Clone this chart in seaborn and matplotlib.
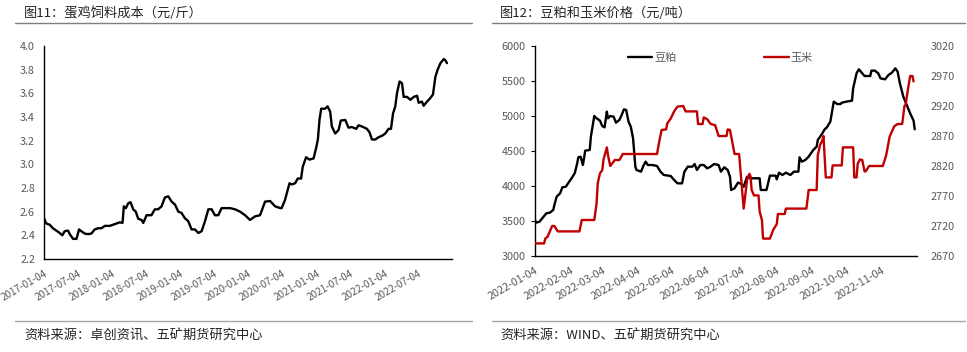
import pandas as pd
import matplotlib
matplotlib.use('Agg')
import matplotlib.pyplot as plt
import matplotlib.lines as mlines
import seaborn as sns

# Fig 11: layer feed cost (yuan/jin)
egg_dates = ['2017-01-04', '2017-01-16', '2017-02-03', '2017-02-21', '2017-03-11', '2017-03-29',
             '2017-04-12', '2017-04-25', '2017-05-13', '2017-05-22', '2017-06-09', '2017-06-27',
             '2017-07-11', '2017-07-23', '2017-08-10', '2017-08-28', '2017-09-15', '2017-10-03',
             '2017-10-21', '2017-11-08', '2017-11-26', '2017-12-23', '2018-01-18', '2018-02-14',
             '2018-03-01', '2018-03-08', '2018-03-19', '2018-03-31', '2018-04-13', '2018-04-27',
             '2018-05-11', '2018-05-24', '2018-06-11', '2018-06-20', '2018-07-08', '2018-08-03',
             '2018-08-21', '2018-09-08', '2018-09-26', '2018-10-14', '2018-11-01', '2018-11-19',
             '2018-12-07', '2018-12-25', '2019-01-11', '2019-01-29', '2019-02-16', '2019-03-06',
             '2019-03-24', '2019-04-11', '2019-04-29', '2019-05-17', '2019-06-04', '2019-06-22',
             '2019-07-09', '2019-07-27', '2019-08-14', '2019-09-01', '2019-09-28', '2019-10-25',
             '2019-11-21', '2019-12-18', '2020-01-13', '2020-02-09', '2020-03-07', '2020-04-03',
             '2020-04-30', '2020-05-27', '2020-06-23', '2020-07-01', '2020-07-19', '2020-08-12',
             '2020-08-24', '2020-09-11', '2020-09-25', '2020-10-13', '2020-10-22', '2020-11-09',
             '2020-11-27', '2020-12-19', '2021-01-02', '2021-01-11', '2021-01-20', '2021-01-29',
             '2021-02-19', '2021-03-04', '2021-03-18', '2021-03-27', '2021-04-14', '2021-05-02',
             '2021-05-14', '2021-06-07', '2021-06-24', '2021-07-12', '2021-08-05', '2021-08-17',
             '2021-09-04', '2021-10-01', '2021-10-15', '2021-10-28', '2021-11-15', '2021-12-03',
             '2021-12-20', '2022-01-07', '2022-01-25', '2022-02-07', '2022-02-18', '2022-03-02',
             '2022-03-11', '2022-03-25', '2022-04-07', '2022-04-16', '2022-05-04', '2022-05-22',
             '2022-06-09', '2022-06-27', '2022-07-05', '2022-07-23', '2022-08-01', '2022-08-19',
             '2022-09-06', '2022-09-20', '2022-10-03', '2022-10-15', '2022-10-30', '2022-11-17',
             '2022-11-25', '2022-12-04']
egg_cost = [2.545, 2.50, 2.49, 2.46, 2.44, 2.42, 2.40, 2.435, 2.44, 2.41, 2.37, 2.37,
            2.45, 2.435, 2.415, 2.41, 2.415, 2.45, 2.46, 2.46, 2.48, 2.48, 2.495, 2.51,
            2.505, 2.645, 2.63, 2.67, 2.68, 2.62, 2.60, 2.54, 2.53, 2.505, 2.57, 2.57,
            2.62, 2.62, 2.645, 2.72, 2.73, 2.685, 2.66, 2.60, 2.59, 2.545, 2.52, 2.45,
            2.45, 2.42, 2.435, 2.52, 2.62, 2.62, 2.57, 2.57, 2.63, 2.63, 2.63, 2.62,
            2.60, 2.57, 2.53, 2.56, 2.57, 2.685, 2.69, 2.645, 2.63, 2.63, 2.70, 2.84,
            2.83, 2.84, 2.88, 2.88, 2.98, 3.06, 3.04, 3.05, 3.14, 3.21, 3.38, 3.47,
            3.47, 3.49, 3.445, 3.32, 3.26, 3.29, 3.37, 3.375, 3.31, 3.315, 3.30, 3.33,
            3.32, 3.30, 3.27, 3.21, 3.21, 3.23, 3.24, 3.26, 3.30, 3.30, 3.43, 3.49,
            3.60, 3.70, 3.685, 3.57, 3.57, 3.545, 3.57, 3.58, 3.52, 3.53, 3.495, 3.53,
            3.56, 3.59, 3.74, 3.80, 3.855, 3.89, 3.88, 3.855]

# Fig 12: soybean meal and corn prices (yuan/ton)
meal_dates = ['2022-01-04', '2022-01-05', '2022-01-08', '2022-01-11', '2022-01-14', '2022-01-17',
              '2022-01-20', '2022-01-21', '2022-01-23', '2022-01-26', '2022-01-28', '2022-01-31',
              '2022-02-03', '2022-02-06', '2022-02-08', '2022-02-10', '2022-02-11', '2022-02-13',
              '2022-02-15', '2022-02-16', '2022-02-17', '2022-02-21', '2022-02-22', '2022-02-25',
              '2022-02-27', '2022-03-02', '2022-03-04', '2022-03-06', '2022-03-08', '2022-03-09',
              '2022-03-11', '2022-03-14', '2022-03-16', '2022-03-19', '2022-03-21', '2022-03-23',
              '2022-03-25', '2022-03-27', '2022-03-29', '2022-03-31', '2022-04-02', '2022-04-03',
              '2022-04-07', '2022-04-09', '2022-04-11', '2022-04-13', '2022-04-17', '2022-04-21',
              '2022-04-24', '2022-04-27', '2022-05-03', '2022-05-06', '2022-05-09', '2022-05-13',
              '2022-05-15', '2022-05-18', '2022-05-22', '2022-05-24', '2022-05-26', '2022-05-29',
              '2022-06-01', '2022-06-04', '2022-06-07', '2022-06-10', '2022-06-14', '2022-06-16',
              '2022-06-19', '2022-06-22', '2022-06-24', '2022-06-25', '2022-06-28', '2022-07-01',
              '2022-07-04', '2022-07-06', '2022-07-09', '2022-07-12', '2022-07-16', '2022-07-20',
              '2022-07-21', '2022-07-26', '2022-07-29', '2022-08-03', '2022-08-04', '2022-08-06',
              '2022-08-09', '2022-08-12', '2022-08-16', '2022-08-19', '2022-08-23', '2022-08-24',
              '2022-08-26', '2022-08-29', '2022-09-01', '2022-09-05', '2022-09-08', '2022-09-09',
              '2022-09-13', '2022-09-15', '2022-09-17', '2022-09-20', '2022-09-23', '2022-09-26',
              '2022-09-29', '2022-09-30', '2022-10-04', '2022-10-09', '2022-10-10', '2022-10-13',
              '2022-10-15', '2022-10-18', '2022-10-20', '2022-10-25', '2022-10-26', '2022-10-29',
              '2022-11-01', '2022-11-03', '2022-11-07', '2022-11-10', '2022-11-13', '2022-11-16',
              '2022-11-18', '2022-11-20', '2022-11-23', '2022-11-26', '2022-11-29', '2022-12-02',
              '2022-12-03']
meal_price = [3514, 3476, 3490, 3552, 3610, 3619, 3657, 3729, 3848, 3895, 3981, 3990,
              4062, 4133, 4190, 4324, 4410, 4419, 4300, 4395, 4505, 4514, 4705, 5000,
              4967, 4933, 4857, 4838, 5062, 4967, 5000, 4990, 4905, 4943, 5014, 5095,
              5086, 4919, 4848, 4681, 4276, 4229, 4205, 4286, 4348, 4300, 4300, 4286,
              4205, 4157, 4143, 4086, 4038, 4038, 4205, 4276, 4276, 4314, 4229, 4300,
              4300, 4252, 4276, 4314, 4300, 4205, 4267, 4229, 4133, 3943, 3967, 4048,
              4029, 3990, 4133, 4110, 4110, 4110, 3943, 3943, 4148, 4148, 4095, 4190,
              4157, 4190, 4157, 4205, 4205, 4410, 4348, 4371, 4419, 4514, 4562, 4657,
              4752, 4810, 4838, 4919, 5205, 5171, 5171, 5190, 5205, 5219, 5395, 5610,
              5667, 5610, 5571, 5571, 5648, 5648, 5610, 5538, 5524, 5586, 5619, 5681,
              5633, 5467, 5276, 5157, 5038, 4933, 4810]

corn_dates = ['2022-01-04', '2022-01-12', '2022-01-13', '2022-01-15', '2022-01-17', '2022-01-19',
              '2022-01-21', '2022-01-24', '2022-02-12', '2022-02-14', '2022-02-25', '2022-02-27',
              '2022-02-28', '2022-03-02', '2022-03-04', '2022-03-05', '2022-03-08', '2022-03-09',
              '2022-03-11', '2022-03-15', '2022-03-19', '2022-03-22', '2022-04-21', '2022-04-23',
              '2022-04-25', '2022-04-29', '2022-04-30', '2022-05-03', '2022-05-06', '2022-05-09',
              '2022-05-14', '2022-05-16', '2022-05-26', '2022-05-27', '2022-05-31', '2022-06-01',
              '2022-06-04', '2022-06-07', '2022-06-11', '2022-06-14', '2022-06-21', '2022-06-22',
              '2022-06-24', '2022-06-28', '2022-07-02', '2022-07-04', '2022-07-06', '2022-07-09',
              '2022-07-11', '2022-07-12', '2022-07-13', '2022-07-15', '2022-07-19', '2022-07-20',
              '2022-07-22', '2022-07-23', '2022-07-29', '2022-08-01', '2022-08-04', '2022-08-05',
              '2022-08-11', '2022-08-12', '2022-08-30', '2022-09-01', '2022-09-08', '2022-09-09',
              '2022-09-11', '2022-09-13', '2022-09-14', '2022-09-16', '2022-09-21', '2022-09-22',
              '2022-09-30', '2022-10-01', '2022-10-10', '2022-10-11', '2022-10-13', '2022-10-14',
              '2022-10-16', '2022-10-18', '2022-10-20', '2022-10-21', '2022-10-24', '2022-11-05',
              '2022-11-08', '2022-11-11', '2022-11-15', '2022-11-18', '2022-11-22', '2022-11-24',
              '2022-11-25', '2022-11-27', '2022-11-29', '2022-12-01', '2022-12-02']
corn_price = [2691, 2691, 2699, 2702, 2711, 2720, 2720, 2711, 2711, 2730, 2730, 2758,
              2791, 2808, 2813, 2830, 2851, 2838, 2820, 2830, 2830, 2840, 2840, 2861,
              2880, 2881, 2891, 2899, 2911, 2919, 2920, 2911, 2911, 2890, 2890, 2901,
              2898, 2890, 2888, 2870, 2870, 2881, 2880, 2840, 2840, 2794, 2749, 2797,
              2807, 2803, 2780, 2771, 2771, 2744, 2730, 2699, 2699, 2714, 2723, 2740,
              2740, 2749, 2749, 2780, 2780, 2838, 2855, 2863, 2870, 2801, 2801, 2821,
              2821, 2851, 2851, 2801, 2801, 2824, 2831, 2830, 2811, 2811, 2820, 2820,
              2838, 2869, 2886, 2890, 2890, 2920, 2922, 2947, 2970, 2970, 2961]

egg = pd.DataFrame({'date': pd.to_datetime(egg_dates), 'cost': egg_cost})
meal = pd.DataFrame({'date': pd.to_datetime(meal_dates), 'price': meal_price})
corn = pd.DataFrame({'date': pd.to_datetime(corn_dates), 'price': corn_price})

sns.set_style('white')
plt.rcParams['font.family'] = ['Noto Sans CJK SC', 'DejaVu Sans']

W, H = 967, 352
fig = plt.figure(figsize=(W / 100, H / 100), dpi=100)
TICK = '#595959'


def fx(px):
    return px / W


def fy(py):
    return 1 - py / H


def style_axis(ax):
    for s in ['top', 'right']:
        ax.spines[s].set_visible(False)
    for s in ['left', 'bottom']:
        ax.spines[s].set_color('black')
        ax.spines[s].set_linewidth(1.0)
    ax.tick_params(axis='both', which='major', length=3, width=0.8, color='black',
                   labelcolor=TICK, labelsize=7.8, direction='out')
    ax.set_xlabel('')
    ax.set_ylabel('')
    for lab in ax.get_xticklabels():
        lab.set_rotation(30)
        lab.set_ha('right')
        lab.set_rotation_mode('anchor')


# ---- left chart
ax1 = fig.add_axes([fx(44), fy(259), fx(452 - 44), (259 - 46) / H])
sns.lineplot(data=egg, x='date', y='cost', color='black', linewidth=1.7, ax=ax1)
ax1.set_ylim(2.2, 4.0)
ax1.set_yticks([2.2, 2.4, 2.6, 2.8, 3.0, 3.2, 3.4, 3.6, 3.8, 4.0])
ax1.set_yticklabels([f'{v:.1f}' for v in ax1.get_yticks()])
ticks1 = pd.date_range('2017-01-04', periods=12, freq=pd.DateOffset(months=6))
ax1.set_xticks(ticks1)
ax1.set_xticklabels([d.strftime('%Y-%m-%d') for d in ticks1])
ax1.set_xlim(pd.Timestamp('2017-01-04'), pd.Timestamp('2022-12-31'))
style_axis(ax1)
for lab in ax1.get_xticklabels():
    lab.set_fontsize(7.2)

# ---- right chart
ax2 = fig.add_axes([fx(535), fy(256), fx(917 - 535), (256 - 46) / H])
sns.lineplot(data=meal, x='date', y='price', color='black', linewidth=1.7, ax=ax2, label='豆粕', legend=False)
ax3 = ax2.twinx()
sns.lineplot(data=corn, x='date', y='price', color='#C00000', linewidth=1.7, ax=ax3, label='玉米', legend=False)
ax2.set_ylim(3000, 6000)
ax2.set_yticks(range(3000, 6001, 500))
ax3.set_ylim(2670, 3020)
ax3.set_yticks(range(2670, 3021, 50))
ticks2 = pd.date_range('2022-01-04', periods=11, freq=pd.DateOffset(months=1))
ax2.set_xticks(ticks2)
ax2.set_xticklabels([d.strftime('%Y-%m-%d') for d in ticks2])
ax2.set_xlim(pd.Timestamp('2022-01-04'), pd.Timestamp('2022-12-05'))
style_axis(ax2)
for s in ax3.spines.values():
    s.set_visible(False)
ax3.tick_params(axis='y', length=0, labelcolor=TICK, labelsize=7.8, pad=10)
ax3.set_ylabel('')

h1, l1 = ax2.get_legend_handles_labels()
h2, l2 = ax3.get_legend_handles_labels()
ax2.legend(h1 + h2, l1 + l2, loc='center left', bbox_to_anchor=(fx(628), fy(58)),
           bbox_transform=fig.transFigure, ncol=2, frameon=False, fontsize=8,
           handlelength=2.2, handletextpad=0.15, columnspacing=7.9,
           borderpad=0, borderaxespad=0, labelcolor=TICK)

# ---- titles, rules and sources
fig.text(fx(24), fy(13), '图11：蛋鸡饲料成本（元/斤）', fontsize=9.5, va='center', ha='left')
fig.text(fx(500), fy(13), '图12：豆粕和玉米价格（元/吨）', fontsize=9.5, va='center', ha='left')
for x0, x1 in [(15, 472), (492, 965)]:
    fig.add_artist(mlines.Line2D([fx(x0), fx(x1)], [fy(23), fy(23)], color='#7f7f7f', linewidth=1.0))
    fig.add_artist(mlines.Line2D([fx(x0), fx(x1)], [fy(321), fy(321)], color='#a6a6a6', linewidth=1.0))
fig.text(fx(24), fy(335), '资料来源：卓创资讯、五矿期货研究中心', fontsize=9.5, va='center', ha='left')
fig.text(fx(500), fy(335), '资料来源：WIND、五矿期货研究中心', fontsize=9.5, va='center', ha='left')

fig.savefig('out.png', dpi=100)
